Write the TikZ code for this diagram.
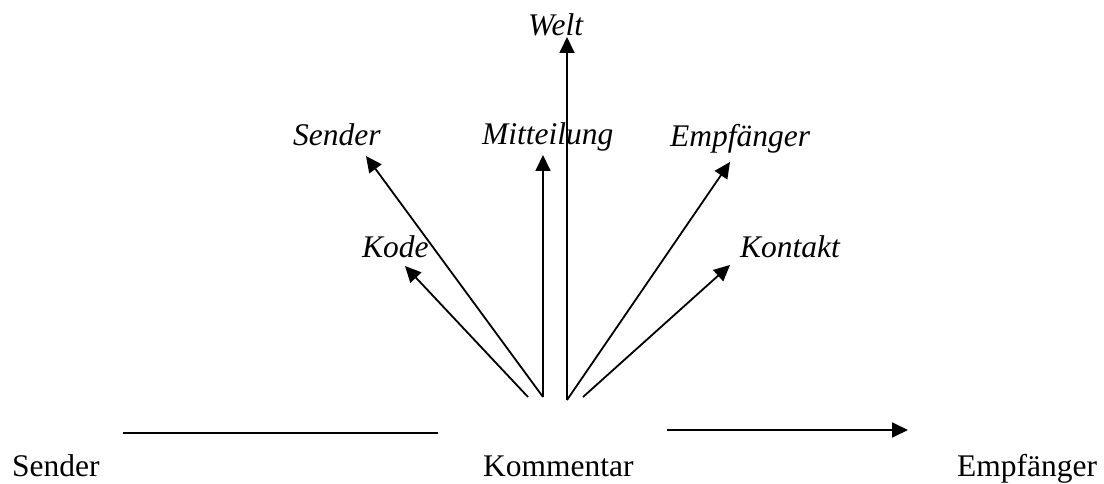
\documentclass[tikz,border=0pt]{standalone}
\usepackage{fontspec}
\setmainfont{Liberation Serif}
\usetikzlibrary{arrows.meta}
\begin{document}
\begin{tikzpicture}[x=1pt,y=-1pt,
  lbl/.style={inner sep=0pt,anchor=base west,font=\fontsize{31.5}{38}\selectfont},
  ilbl/.style={lbl,font=\fontsize{31.5}{38}\selectfont\itshape},
  conn/.style={line width=1.8pt},
  arr/.style={conn,-{Triangle[length=16pt,width=15pt]}}]
\useasboundingbox (0,0) rectangle (1104,484);
% bottom labels
\node[lbl] (snd) at (12,476) {Sender};
\node[lbl] (kom) at (483,476) {Kommentar};
\node[lbl] (emp) at (957,476) {Empfänger};
% top labels
\node[ilbl] (welt) at (528,36) {Welt};
\node[ilbl] (isnd) at (293,146) {Sender};
\node[ilbl] (mitt) at (482,145) {Mitteilung};
\node[ilbl] (iemp) at (670,147) {Empfänger};
\node[ilbl] (kode) at (362,257) {Kode};
\node[ilbl] (kont) at (740,257) {Kontakt};
% fan origins and tips
\coordinate (o1) at (528,397);
\coordinate (o2) at (543,397);
\coordinate (o3) at (567,400);
\coordinate (o4) at (583,397);
\coordinate (tKode) at (405,266);
\coordinate (tSnd) at (366,156);
\coordinate (tMitt) at (543,155);
\coordinate (tWelt) at (567,37);
\coordinate (tEmp) at (730,162);
\coordinate (tKont) at (730,265);
\draw[arr] (o1) -- (tKode);
\draw[arr] (o2) -- (tSnd);
\draw[arr] (o2) -- (tMitt);
\draw[arr] (o3) -- (tWelt);
\draw[arr] (o3) -- (tEmp);
\draw[arr] (o4) -- (tKont);
% horizontal lines
\coordinate (h1) at (123,433);
\coordinate (h2) at (438,433);
\coordinate (h3) at (667,430);
\coordinate (h4) at (908,430);
\draw[conn] (h1) -- (h2);
\draw[arr] (h3) -- (h4);
\end{tikzpicture}
\end{document}
